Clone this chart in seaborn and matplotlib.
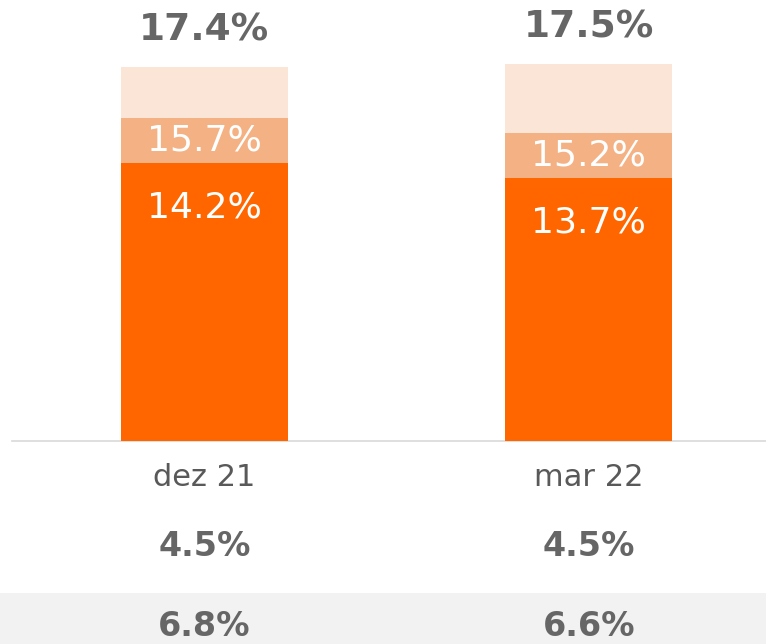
import matplotlib
matplotlib.use("Agg")
import matplotlib.pyplot as plt
import matplotlib.transforms as mtransforms
from matplotlib.patches import Rectangle
import seaborn as sns
import pandas as pd

categories = ["dez 21", "mar 22"]
base_vals = [14.2, 13.7]
mid_vals = [15.7, 15.2]
total_vals = [17.4, 17.5]
row1_vals = [4.5, 4.5]
row2_vals = [6.8, 6.6]

sns.set_theme(style="white")
plt.rcParams['font.family'] = ['DejaVu Sans']

W, H = 766, 644
fig = plt.figure(figsize=(W / 100, H / 100), dpi=100)
ax = fig.add_axes([12 / W, (H - 441) / H, (W - 12) / W, 441 / H])

df = pd.DataFrame({"cat": categories, "base": base_vals, "mid": mid_vals, "total": total_vals})
bw = 0.434
sns.barplot(data=df, x="cat", y="total", color="#FBE5D6", saturation=1, width=bw, ax=ax,
            zorder=2, linewidth=0)
sns.barplot(data=df, x="cat", y="mid", color="#F4B183", saturation=1, width=bw, ax=ax,
            zorder=3, linewidth=0)
sns.barplot(data=df, x="cat", y="base", color="#FF6600", saturation=1, width=bw, ax=ax,
            zorder=4, linewidth=0)

ymin = 4.93
ax.set_ylim(ymin, ymin + 441 / 30)
ax.set_xlim(-0.5, (W - 12) / 384.5 - 0.5)

for i in range(len(categories)):
    ax.annotate(f"{total_vals[i]:.1f}%", (i, total_vals[i]), xytext=(0, 26.0),
                textcoords="offset points", ha="center", va="center",
                fontsize=27, fontweight="bold", color="#666666")
    ax.text(i, (mid_vals[i] + base_vals[i]) / 2, f"{mid_vals[i]:.1f}%", ha="center",
            va="center", fontsize=26, color="white", zorder=6)
    ax.annotate(f"{base_vals[i]:.1f}%", (i, base_vals[i]), xytext=(0, -32.4),
                textcoords="offset points", ha="center", va="center",
                fontsize=26, color="white", zorder=6)

for s in ["top", "left", "right"]:
    ax.spines[s].set_visible(False)
ax.spines["bottom"].set_color("#D9D9D9")
ax.spines["bottom"].set_linewidth(1.2)
ax.set_yticks([])
ax.set_xlabel("")
ax.set_ylabel("")
ax.tick_params(axis="x", length=0, pad=16, labelsize=22, labelcolor="#595959")

fig.patches.append(Rectangle((0, 0), 1, (H - 593) / H, transform=fig.transFigure,
                             facecolor="#F2F2F2", edgecolor="none", zorder=-5))

trans = mtransforms.blended_transform_factory(ax.transData, fig.transFigure)
for i in range(len(categories)):
    ax.text(i, (H - 547) / H, f"{row1_vals[i]:.1f}%", transform=trans, ha="center",
            va="center", fontsize=24, fontweight="bold", color="#666666", clip_on=False)
    ax.text(i, 1.5 / H, f"{row2_vals[i]:.1f}%", transform=trans, ha="center",
            va="bottom", fontsize=24, fontweight="bold", color="#666666", clip_on=False)

fig.savefig("out.png", dpi=100)
